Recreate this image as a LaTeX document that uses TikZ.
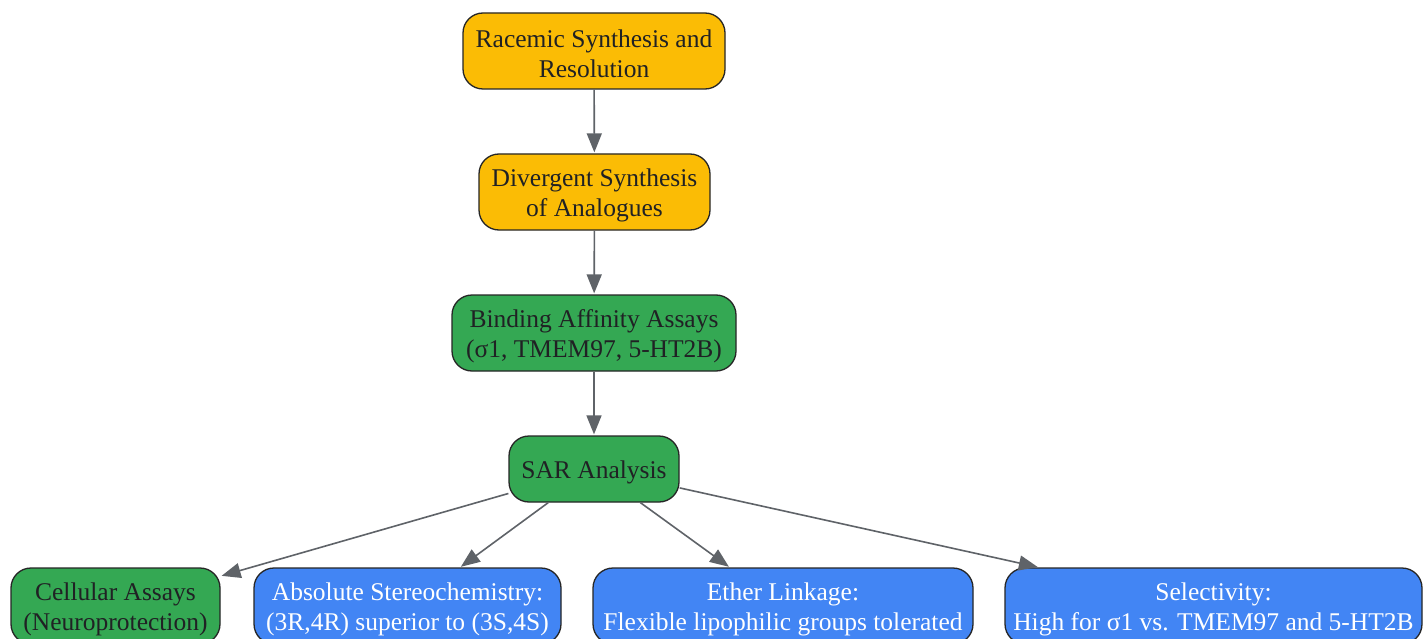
\documentclass[tikz,border=0pt]{standalone}
\usepackage{fontspec}
\setmainfont{Liberation Serif}
\usetikzlibrary{arrows.meta}
\definecolor{cyellow}{HTML}{FBBC05}
\definecolor{cgreen}{HTML}{34A853}
\definecolor{cblue}{HTML}{4285F4}
\definecolor{tdark}{HTML}{202124}
\definecolor{cline}{HTML}{5F6368}
\begin{document}
\begin{tikzpicture}[x=1pt,y=-1pt,
  box/.style={draw=black!85, line width=1.3pt, rounded corners=20pt, inner sep=0pt, minimum height=76pt},
  txt/.style={align=center, font=\fontsize{25.5}{30}\selectfont, inner sep=0pt, text=tdark},
  wtxt/.style={txt, text=white},
  ybox/.style={box, fill=cyellow},
  gbox/.style={box, fill=cgreen},
  bbox/.style={box, fill=cblue},
  arr/.style={draw=cline, line width=1.6pt, -{Triangle[length=19pt,width=15pt]}, shorten >=1pt}]
\useasboundingbox (0,0) rectangle (1423,639);
\fill[white] (0,0) rectangle (1423,639);
\node[ybox, minimum width=262pt] (n1) at (594,51) {};
\node[txt] (t1) at ([yshift=-3pt]n1.center) {Racemic Synthesis and\\Resolution};
\node[ybox, minimum width=231pt] (n2) at (594.5,192) {};
\node[txt] (t2) at ([yshift=-3pt]n2.center) {Divergent Synthesis\\of Analogues};
\node[gbox, minimum width=284pt] (n3) at (594,333) {};
\node[txt] (t3) at ([yshift=-3pt]n3.center) {Binding Affinity Assays\\(σ1, TMEM97, 5-HT2B)};
\node[gbox, minimum width=170pt, minimum height=66pt] (n4) at (594,469) {};
\node[txt] (t4) at ([yshift=-3pt]n4.center) {SAR Analysis};
\node[gbox, minimum width=209pt] (c1) at (115.5,606) {};
\node[txt] (s1) at ([yshift=-3pt]c1.center) {Cellular Assays\\(Neuroprotection)};
\node[bbox, minimum width=307pt] (c2) at (407.5,606) {};
\node[wtxt] (s2) at ([yshift=-3pt]c2.center) {Absolute Stereochemistry:\\(3R,4R) superior to (3S,4S)};
\node[bbox, minimum width=380pt] (c3) at (783,606) {};
\node[wtxt] (s3) at ([yshift=-3pt]c3.center) {Ether Linkage:\\Flexible lipophilic groups tolerated};
\node[bbox, minimum width=417pt] (c4) at (1213.5,606) {};
\node[wtxt] (s4) at ([yshift=-3pt]c4.center) {Selectivity:\\High for σ1 vs. TMEM97 and 5-HT2B};
\draw[arr] (n1) -- (n2);
\draw[arr] (n2) -- (n3);
\draw[arr] (n3) -- (n4);
\draw[arr] (n4) -- (c1);
\draw[arr] (n4) -- (c2);
\draw[arr] (n4) -- (c3);
\draw[arr] (n4) -- (c4);
\end{tikzpicture}
\end{document}
